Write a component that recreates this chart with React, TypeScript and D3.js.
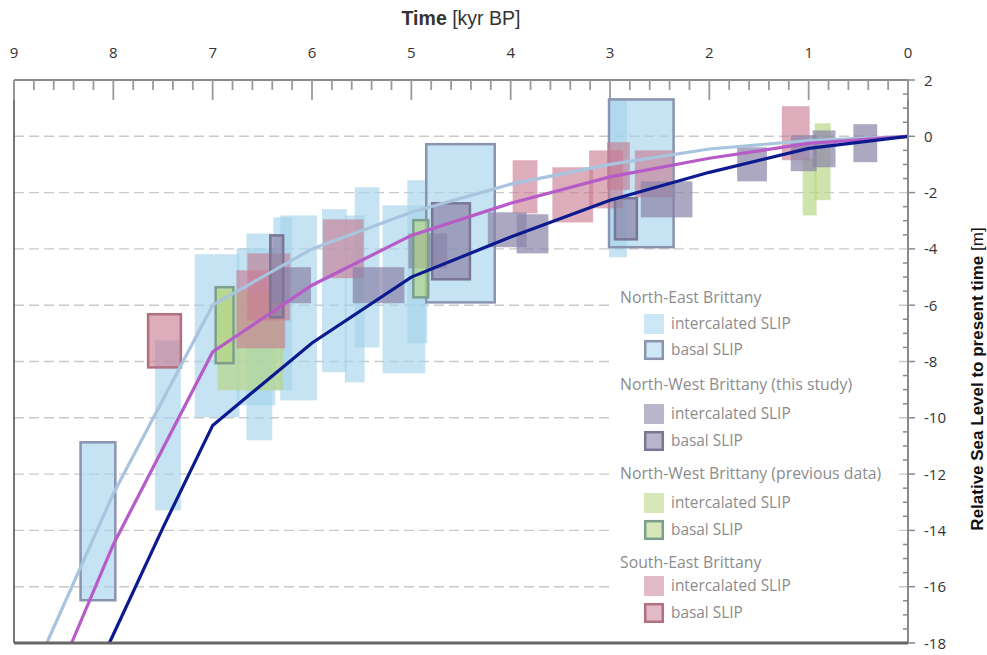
import React from "react";
import * as d3 from "d3";

// ---- data ----
// axis ticks
const timeTicks = [9, 8, 7, 6, 5, 4, 3, 2, 1, 0];
const rslTicks = [2, 0, -2, -4, -6, -8, -10, -12, -14, -16, -18];
const gridValues = [0, -2, -4, -6, -8, -10, -12, -14, -16];

// model curves [kyr BP, RSL m]
const curveLight: [number, number][] = [[8.67, -18], [8, -12.7], [7, -6.0], [6, -4.0], [5, -2.7], [4, -1.7], [3, -1.0], [2, -0.45], [1, -0.15], [0, 0]];
const curveMagenta: [number, number][] = [[8.42, -18], [8, -14.5], [7, -7.66], [6, -5.29], [5, -3.52], [4, -2.38], [3, -1.44], [2, -0.78], [1, -0.25], [0, 0]];
const curveNavy: [number, number][] = [[8.04, -18], [7.5, -13.9], [7, -10.27], [6, -7.34], [5, -5.0], [4, -3.58], [3, -2.27], [2, -1.28], [1, -0.43], [0, 0]];

// SLIP boxes [older age, younger age, upper RSL, lower RSL]
const neIntercalated = [
  [7.58, 7.32, -7.25, -13.29],
  [7.18, 6.73, -4.19, -9.98],
  [6.76, 6.37, -3.98, -9.56],
  [6.66, 6.40, -3.45, -10.80],
  [6.39, 6.20, -2.88, -9.02],
  [6.32, 5.95, -2.81, -9.38],
  [5.90, 5.65, -2.59, -8.38],
  [5.67, 5.47, -2.81, -8.74],
  [5.57, 5.32, -1.81, -7.50],
  [5.29, 4.86, -2.45, -8.42],
  [5.04, 4.84, -1.56, -7.35],
  [3.01, 2.83, 1.28, -4.30],
];
const neBasal = [
  [8.33, 7.98, -10.87, -16.48],
  [4.85, 4.16, -0.28, -5.90],
  [3.01, 2.36, 1.31, -3.94],
];
const nwIntercalated = [
  [6.42, 6.01, -4.65, -5.93],
  [5.59, 5.07, -4.65, -5.93],
  [5.03, 4.64, -3.45, -4.69],
  [4.23, 3.84, -2.70, -3.94],
  [3.94, 3.62, -2.77, -4.16],
  [2.69, 2.17, -1.60, -2.88],
  [1.72, 1.42, -0.39, -1.60],
  [1.18, 0.92, 0.04, -1.24],
  [0.96, 0.73, 0.21, -1.10],
  [0.55, 0.31, 0.43, -0.92],
];
const nwBasal = [
  [6.42, 6.29, -3.52, -6.43],
  [4.79, 4.41, -2.38, -5.08],
  [2.95, 2.73, -2.20, -3.66],
];
const prevIntercalated = [
  [6.95, 6.29, -5.47, -9.02],
  [1.06, 0.92, -0.78, -2.81],
  [0.94, 0.78, 0.46, -2.27],
];
const prevBasal = [
  [6.97, 6.79, -5.36, -8.06],
  [4.98, 4.83, -2.98, -5.72],
];
const seIntercalated = [
  [6.76, 6.27, -4.76, -7.53],
  [6.65, 6.22, -4.16, -6.54],
  [5.89, 5.48, -2.95, -5.04],
  [3.98, 3.73, -0.85, -2.74],
  [3.58, 3.17, -1.10, -3.06],
  [3.21, 2.87, -0.50, -2.56],
  [3.03, 2.80, -0.21, -1.90],
  [2.75, 2.37, -0.50, -2.17],
  [1.27, 0.99, 1.07, -0.85],
];
const seBasal = [
  [7.65, 7.32, -6.32, -8.21],
];

const legendGroups = [
  "North-East Brittany",
  "North-West Brittany (this study)",
  "North-West Brittany (previous data)",
  "South-East Brittany",
];
const legendItems = ["intercalated SLIP", "basal SLIP"];

// ---- styles ----
const styles = {
  ne: { fill: "rgb(164,211,235)", op: 0.64, stroke: "#8a93b0" },
  nw: { fill: "rgb(138,131,168)", op: 0.7, stroke: "#7a7696" },
  prev: { fill: "rgb(181,214,127)", op: 0.65, stroke: "#7d9e8e" },
  se: { fill: "rgb(200,122,146)", op: 0.62, stroke: "#b0707f" },
};

const W = 987;
const H = 655;
const X0 = 14, X1 = 908, Y0 = 80, Y1 = 643;

export default function App() {
  const x = d3.scaleLinear().domain([9, 0]).range([X0, X1]);
  const y = d3.scaleLinear().domain([-18, 2]).range([Y1, Y0]);

  const line = d3.line<[number, number]>().x((d) => x(d[0])).y((d) => y(d[1]));

  const minorTime = d3.range(0, 9.0001, 0.2).map((v) => +v.toFixed(1));
  const minorRsl = d3.range(-18, 2.0001, 0.5);

  const boxes = (data: number[][], st: any, basal: boolean, key: string) =>
    data.map((b, i) => {
      const bx = x(b[0]);
      const bw = x(b[1]) - x(b[0]);
      const by = y(b[2]);
      const bh = y(b[3]) - y(b[2]);
      return (
        <g key={key + i}>
          <rect x={bx} y={by} width={bw} height={bh} fill={st.fill} fillOpacity={st.op} />
          {basal && (
            <rect x={bx} y={by} width={bw} height={bh} fill="none" stroke={st.stroke} strokeWidth={2.5} />
          )}
        </g>
      );
    });

  const sans = "'Open Sans', 'Noto Sans', Arial, sans-serif";
  const legendFont = "'Open Sans', 'Noto Sans', sans-serif";
  const groupStyles = [styles.ne, styles.nw, styles.prev, styles.se];
  const groupY = [298, 385, 474, 563];
  const itemY = [[324, 350], [414, 441], [503, 530], [586, 613]];

  return (
    <svg width={W} height={H} style={{ position: "absolute", left: 0, top: 0, background: "#fff" }}>
      {/* gridlines */}
      {gridValues.map((g) => (
        <line key={"g" + g} x1={X0} x2={X1} y1={y(g)} y2={y(g)} stroke="#c9c9c9" strokeWidth={1.4} strokeDasharray="10 5" />
      ))}

      {/* boxes */}
      {boxes(neIntercalated, styles.ne, false, "nei")}
      {boxes(neBasal, styles.ne, true, "neb")}
      {boxes(prevIntercalated, styles.prev, false, "pi")}
      {boxes(seIntercalated, styles.se, false, "sei")}
      {boxes(nwIntercalated, styles.nw, false, "nwi")}
      {boxes(prevBasal, styles.prev, true, "pb")}
      {boxes(seBasal, styles.se, true, "seb")}
      {boxes(nwBasal, styles.nw, true, "nwb")}

      {/* curves */}
      <path d={line(curveLight) || ""} fill="none" stroke="#a8c4df" strokeWidth={3.2} />
      <path d={line(curveMagenta) || ""} fill="none" stroke="#b65bc7" strokeWidth={3.2} />
      <path d={line(curveNavy) || ""} fill="none" stroke="#0b1a8e" strokeWidth={3.2} />

      {/* legend */}
      <rect x={612} y={288} width={285} height={342} fill="#fff" />
      {legendGroups.map((g, gi) => (
        <g key={"lg" + gi}>
          <text x={620} y={groupY[gi] + 5} fontFamily={legendFont} fontSize={15.8} fill="#8c8c8c">{g}</text>
          {legendItems.map((it, ii) => (
            <g key={"li" + ii}>
              <rect x={644} y={itemY[gi][ii] - 10} width={20} height={20} fill={groupStyles[gi].fill} fillOpacity={groupStyles[gi].op * 0.85} />
              {ii === 1 && (
                <rect x={645.2} y={itemY[gi][ii] - 8.8} width={17.6} height={17.6} fill="none" stroke={groupStyles[gi].stroke} strokeWidth={2.5} />
              )}
              <text x={671} y={itemY[gi][ii] + 5} fontFamily={legendFont} fontSize={15.4} fill="#8c8c8c">{it}</text>
            </g>
          ))}
        </g>
      ))}

      {/* frame */}
      <line x1={X0} x2={X1} y1={Y0} y2={Y0} stroke="#8a8a8a" strokeWidth={2} />
      <line x1={X1} x2={X1} y1={Y0} y2={Y1} stroke="#8a8a8a" strokeWidth={2} />
      <line x1={X0} x2={X0} y1={Y0} y2={Y1} stroke="#555" strokeWidth={1.6} />
      <line x1={X0} x2={X1} y1={Y1} y2={Y1} stroke="#666" strokeWidth={3} />

      {/* top ticks */}
      {minorTime.map((t) => {
        const major = Math.abs(t - Math.round(t)) < 1e-6;
        return (
          <line key={"tt" + t} x1={x(t)} x2={x(t)} y1={Y0} y2={Y0 + (major ? 20 : 10)} stroke="#9a9a9a" strokeWidth={1.8} />
        );
      })}
      {timeTicks.map((t) => (
        <text key={"tl" + t} x={x(t)} y={58} textAnchor="middle" fontFamily={sans} fontSize={15} fill="#333">{t}</text>
      ))}

      {/* right ticks */}
      {minorRsl.map((v) => {
        const major = Math.abs(v / 2 - Math.round(v / 2)) < 1e-6;
        return (
          <line key={"rt" + v} x1={major ? X1 : X1 - 5} x2={major ? X1 + 7 : X1} y1={y(v)} y2={y(v)} stroke="#8a8a8a" strokeWidth={1.5} />
        );
      })}
      {rslTicks.map((v) => (
        <text key={"rl" + v} x={924} y={y(v) + 5.5} textAnchor="start" fontFamily={sans} fontSize={15} fill="#333">{v}</text>
      ))}

      {/* axis titles */}
      <text x={461} y={25} textAnchor="middle" fontFamily="Arial, 'Liberation Sans', sans-serif" fontSize={19.5} fill="#333">
        <tspan fontWeight="bold">Time</tspan>
        <tspan> [kyr BP]</tspan>
      </text>
      <text transform={`translate(983,379) rotate(-90)`} textAnchor="middle" fontFamily="Arial, 'Liberation Sans', sans-serif" fontSize={17} fill="#111">
        <tspan fontWeight="bold">Relative Sea Level to present time</tspan>
        <tspan> [m]</tspan>
      </text>
    </svg>
  );
}
